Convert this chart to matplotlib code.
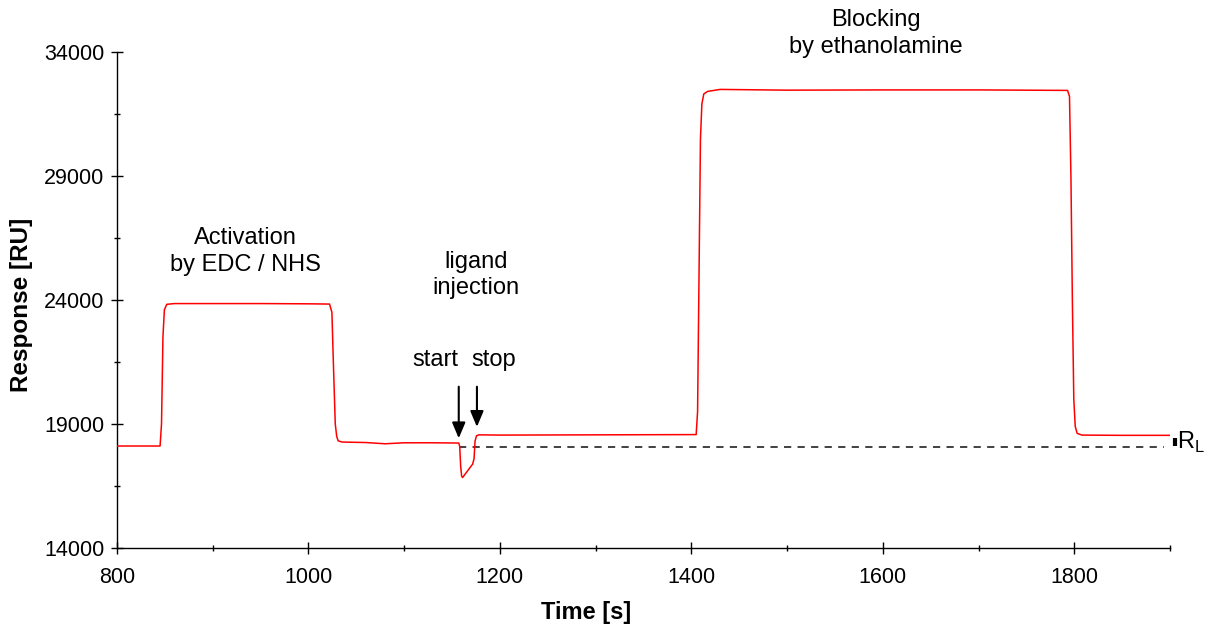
import matplotlib
matplotlib.use("Agg")
import matplotlib.pyplot as plt
from matplotlib.ticker import FixedLocator
from matplotlib.transforms import blended_transform_factory

plt.rcParams['font.family'] = ['Liberation Sans', 'DejaVu Sans']

# Sensorgram
time_s = [800, 845, 846.5, 848, 849.5, 852, 860, 900, 950, 1000, 1022, 1024.5, 1026, 1028,
          1029.5, 1031, 1035, 1060, 1080, 1100, 1130, 1157, 1158, 1159, 1160, 1161, 1171.5,
          1173, 1174, 1175.5, 1178, 1200, 1300, 1405, 1406.5, 1408, 1409.5, 1411, 1413,
          1417, 1430, 1500, 1600, 1700, 1793, 1795, 1796.5, 1798, 1799.5, 1801, 1803,
          1808, 1850, 1900]
response_ru = [18110, 18110, 19000, 22500, 23600, 23820, 23850, 23850, 23850, 23840, 23830,
               23500, 21500, 19000, 18500, 18320, 18270, 18250, 18200, 18240, 18240, 18230,
               18100, 17300, 16900, 16840, 17380, 17600, 18300, 18520, 18560, 18550, 18560,
               18570, 19500, 25000, 30500, 31900, 32300, 32400, 32480, 32450, 32460, 32460,
               32440, 32200, 29000, 24000, 20000, 18900, 18620, 18550, 18540, 18540]

baseline_level = 18080
baseline_start, baseline_end = 1157, 1894

x_major = [800, 1000, 1200, 1400, 1600, 1800]
x_minor = [900, 1100, 1300, 1500, 1700, 1900]
y_major = [14000, 19000, 24000, 29000, 34000]
y_minor = [16500, 21500, 26500, 31500]

fig = plt.figure(figsize=(12.10, 6.33), dpi=100)
ax = fig.add_axes([117/1210, 1 - 548/633, (1170 - 117)/1210, (548 - 51.7)/633])

ax.plot(time_s, response_ru, color='#ff0000', lw=1.1, zorder=3)
ax.plot([baseline_start, baseline_end], [baseline_level, baseline_level],
        color='#333333', lw=1.3, ls=(0, (4, 3.5)), zorder=2)

ax.set_xlim(800, 1900)
ax.set_ylim(14000, 34000)
ax.set_xticks(x_major)
ax.set_yticks(y_major)
ax.xaxis.set_minor_locator(FixedLocator(x_minor))
ax.yaxis.set_minor_locator(FixedLocator(y_minor))
ax.tick_params(which='major', direction='inout', length=8, width=1.0, labelsize=15.5)
ax.tick_params(axis='x', which='major', pad=10)
ax.tick_params(axis='y', which='major', pad=5)
ax.tick_params(which='minor', direction='inout', length=5, width=1.0)
for s in ['top', 'right']:
    ax.spines[s].set_visible(False)
for s in ['left', 'bottom']:
    ax.spines[s].set_linewidth(1.0)

# Axis labels
trans = blended_transform_factory(ax.transData, fig.transFigure)
ax.text(1290, 1 - 613/633, 'Time [s]', transform=trans, ha='center', va='center',
        fontsize=17, fontweight='bold')
fig.text(22/1210, 1 - 305/633, 'Response [RU]', rotation=90, ha='center', va='center',
         fontsize=17.5, fontweight='bold')

# Annotations
ax.text(934, 25950, 'Activation\nby EDC / NHS', ha='center', va='center', fontsize=17,
        linespacing=1.28)
ax.text(1175, 25000, 'ligand\ninjection', ha='center', va='center', fontsize=17,
        linespacing=1.28)
ax.text(1133, 21560, 'start', ha='center', va='center', fontsize=17)
ax.text(1194, 21560, 'stop', ha='center', va='center', fontsize=17)
ax.text(1593, 34740, 'Blocking\nby ethanolamine', ha='center', va='center', fontsize=17,
        linespacing=1.28, clip_on=False)

arrow_kw = dict(arrowstyle='-|>,head_length=0.95,head_width=0.4', color='black', lw=1.5,
                shrinkA=0, shrinkB=0)
ax.annotate('', xy=(1157, 18420), xytext=(1157, 20500), arrowprops=arrow_kw)
ax.annotate('', xy=(1176, 18880), xytext=(1176, 20500), arrowprops=arrow_kw)

# R_L marker
ax.plot([1905, 1905], [18120, 18420], color='black', lw=3, solid_capstyle='butt',
        clip_on=False)
ax.text(1907, 18250, r'R$_\mathregular{L}$', ha='left', va='center', fontsize=17,
        clip_on=False)

fig.savefig('out.png', dpi=100)
